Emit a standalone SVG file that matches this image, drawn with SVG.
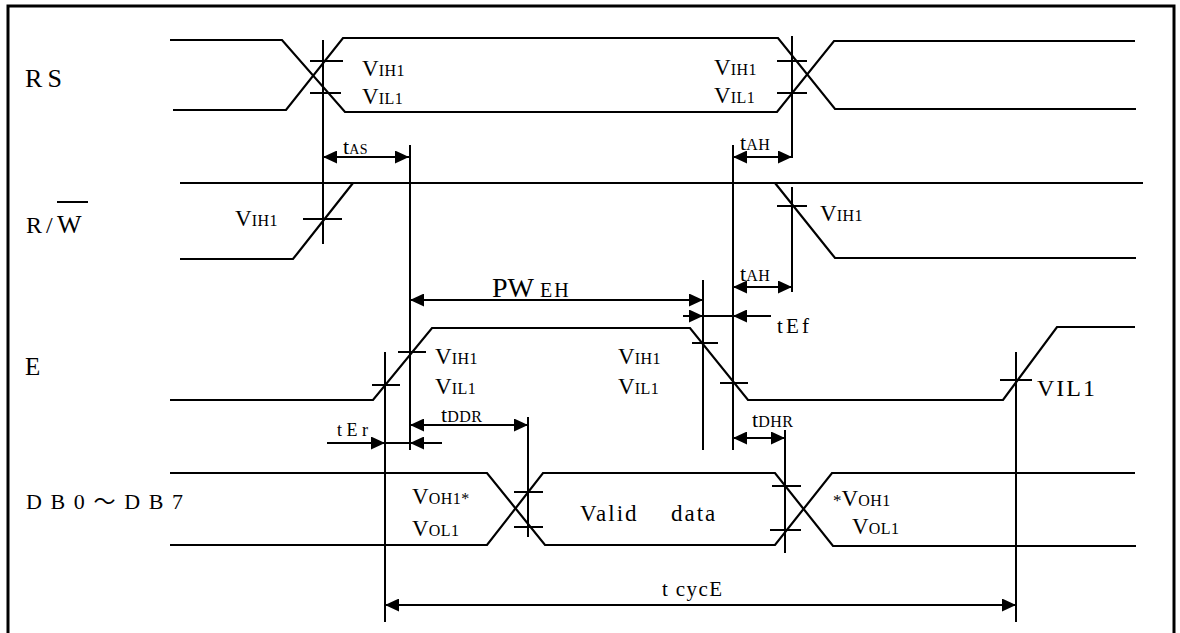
<svg xmlns="http://www.w3.org/2000/svg" width="1180" height="633" viewBox="0 0 1180 633">
<style>
.sig{fill:none;stroke:#000;stroke-width:2.2;stroke-linejoin:miter}
.ln{fill:none;stroke:#000;stroke-width:2}
.dim{fill:none;stroke:#000;stroke-width:2}
.lab{font-size:24px}
.v{font-size:23px}
.s{font-size:16px;letter-spacing:0.5px}
.t{font-size:22px}
</style>
<defs>
<marker id="ah" markerUnits="userSpaceOnUse" markerWidth="15" markerHeight="13" refX="14" refY="6.5" orient="auto-start-reverse">
<path d="M0,0 L14,6.5 L0,13 z" fill="#000"/>
</marker>
</defs>
<rect x="8" y="6" width="1166" height="640" fill="none" stroke="#000" stroke-width="3"/>

<g font-family="Liberation Serif, Times New Roman, Noto Sans CJK SC, serif" fill="#000">
<g id="labels">
<text class="lab" x="25" y="87" style="font-size:26px" textLength="37" lengthAdjust="spacing">RS</text>
<text class="lab" y="233"><tspan x="26">R</tspan><tspan x="46">/</tspan><tspan x="57" style="font-size:26px">W</tspan></text>
<line x1="57" y1="202" x2="88" y2="202" stroke="#000" stroke-width="2"/>
<text class="lab" x="25" y="375" style="font-size:25px">E</text>
<text class="lab" x="26" y="509" style="font-size:22px" textLength="157" lengthAdjust="spacing">DB0～DB7</text>
</g>

<g id="RS">
<polyline class="sig" points="170,40 282,40 345,112 777,112 834,41 1135,41"/>
<polyline class="sig" points="173,110 286,110 343,38 778,38 835,109 1136,109"/>
<text x="362" y="76"><tspan class="v">V</tspan><tspan class="s">IH1</tspan></text>
<text x="362" y="104"><tspan class="v">V</tspan><tspan class="s">IL1</tspan></text>
<text x="714" y="75"><tspan class="v">V</tspan><tspan class="s">IH1</tspan></text>
<text x="714" y="103"><tspan class="v">V</tspan><tspan class="s">IL1</tspan></text>
</g>

<g id="RW">
<polyline class="sig" points="180,183 1143,183"/>
<polyline class="sig" points="180,259 293,259 353,183"/>
<polyline class="sig" points="775,183 835,258 1136,258"/>
<text x="235" y="226"><tspan class="v">V</tspan><tspan class="s">IH1</tspan></text>
<text x="820" y="221"><tspan class="v">V</tspan><tspan class="s">IH1</tspan></text>
</g>

<g id="E">
<polyline class="sig" points="170,400 373,400 432,328 690,328 748,400 1003,400 1057,327 1135,327"/>
<text x="435" y="364"><tspan class="v">V</tspan><tspan class="s">IH1</tspan></text>
<text x="435" y="394"><tspan class="v">V</tspan><tspan class="s">IL1</tspan></text>
<text x="618" y="364"><tspan class="v">V</tspan><tspan class="s">IH1</tspan></text>
<text x="618" y="394"><tspan class="v">V</tspan><tspan class="s">IL1</tspan></text>
<text x="1037" y="396" style="font-size:24px" textLength="58" lengthAdjust="spacing">VIL1</text>
</g>

<g id="DB">
<polyline class="sig" points="170,473 487,473 545,545 775,545 832,473 1135,473"/>
<polyline class="sig" points="170,545 487,545 543,473 775,473 833,546 1136,546"/>
<text x="412" y="504"><tspan class="v">V</tspan><tspan class="s">OH1*</tspan></text>
<text x="412" y="536"><tspan class="v">V</tspan><tspan class="s">OL1</tspan></text>
<text y="521" style="font-size:23px;letter-spacing:2px"><tspan x="580">Valid</tspan><tspan x="671">data</tspan></text>
<text x="833" y="506"><tspan style="font-size:17px">*</tspan><tspan class="v">V</tspan><tspan class="s">OH1</tspan></text>
<text x="852" y="534"><tspan class="v">V</tspan><tspan class="s">OL1</tspan></text>
</g>

<g id="connectors">
<line class="ln" x1="323" y1="40" x2="323" y2="244"/>
<line class="ln" x1="410" y1="145" x2="410" y2="450"/>
<line class="ln" x1="733" y1="145" x2="733" y2="450"/>
<line class="ln" x1="792" y1="36" x2="792" y2="158"/>
<line class="ln" x1="792" y1="187" x2="792" y2="292"/>
<line class="ln" x1="703" y1="280" x2="703" y2="450"/>
<line class="ln" x1="385" y1="352" x2="385" y2="622"/>
<line class="ln" x1="1016" y1="352" x2="1016" y2="622"/>
<line class="ln" x1="528" y1="417" x2="528" y2="537"/>
<line class="ln" x1="785" y1="430" x2="785" y2="553"/>

<line class="ln" x1="310" y1="61" x2="343" y2="61"/>
<line class="ln" x1="310" y1="93" x2="341" y2="93"/>
<line class="ln" x1="777" y1="61" x2="807" y2="61"/>
<line class="ln" x1="777" y1="93" x2="807" y2="93"/>
<line class="ln" x1="303" y1="219" x2="342" y2="219"/>
<line class="ln" x1="777" y1="206" x2="807" y2="206"/>
<line class="ln" x1="372" y1="385" x2="400" y2="385"/>
<line class="ln" x1="398" y1="352" x2="426" y2="352"/>
<line class="ln" x1="692" y1="343" x2="718" y2="343"/>
<line class="ln" x1="720" y1="383" x2="748" y2="383"/>
<line class="ln" x1="1000" y1="380" x2="1032" y2="380"/>
<line class="ln" x1="514" y1="492" x2="543" y2="492"/>
<line class="ln" x1="514" y1="527" x2="543" y2="527"/>
<line class="ln" x1="772" y1="486" x2="801" y2="486"/>
<line class="ln" x1="770" y1="530" x2="801" y2="530"/>

<line class="dim" x1="323" y1="157" x2="409" y2="157" marker-start="url(#ah)" marker-end="url(#ah)"/>
<line class="dim" x1="733" y1="157" x2="792" y2="157" marker-start="url(#ah)" marker-end="url(#ah)"/>
<line class="dim" x1="733" y1="287" x2="792" y2="287" marker-start="url(#ah)" marker-end="url(#ah)"/>
<line class="dim" x1="410" y1="300" x2="703" y2="300" marker-start="url(#ah)" marker-end="url(#ah)"/>
<line class="dim" x1="703" y1="316" x2="733" y2="316"/>
<line class="dim" x1="683" y1="316" x2="703" y2="316" marker-end="url(#ah)"/>
<line class="dim" x1="771" y1="316" x2="733" y2="316" marker-end="url(#ah)"/>
<line class="dim" x1="410" y1="425" x2="528" y2="425" marker-start="url(#ah)" marker-end="url(#ah)"/>
<line class="dim" x1="385" y1="443" x2="410" y2="443"/>
<line class="dim" x1="327" y1="443" x2="385" y2="443" marker-end="url(#ah)"/>
<line class="dim" x1="442" y1="443" x2="410" y2="443" marker-end="url(#ah)"/>
<line class="dim" x1="733" y1="438" x2="785" y2="438" marker-start="url(#ah)" marker-end="url(#ah)"/>
<line class="dim" x1="385" y1="605" x2="1016" y2="605" marker-start="url(#ah)" marker-end="url(#ah)"/>
</g>

<g id="timing-labels">
<text x="343" y="154"><tspan class="t">t</tspan><tspan class="s" style="font-size:14px">AS</tspan></text>
<text x="740" y="150"><tspan class="t">t</tspan><tspan class="s">AH</tspan></text>
<text x="740" y="281"><tspan class="t">t</tspan><tspan class="s">AH</tspan></text>
<text x="492" y="297"><tspan style="font-size:28px">PW</tspan><tspan style="font-size:20px;letter-spacing:2px" dx="6">EH</tspan></text>
<text x="777" y="333" style="font-size:21px" textLength="32" lengthAdjust="spacing">tEf</text>
<text x="441" y="422"><tspan class="t">t</tspan><tspan class="s">DDR</tspan></text>
<text x="752" y="427"><tspan class="t">t</tspan><tspan class="s">DHR</tspan></text>
<text x="337" y="436" style="font-size:18px" textLength="31" lengthAdjust="spacing">tEr</text>
<text x="662" y="596" style="font-size:21px" textLength="60" lengthAdjust="spacing">t cycE</text>
</g>
</g>
</svg>
